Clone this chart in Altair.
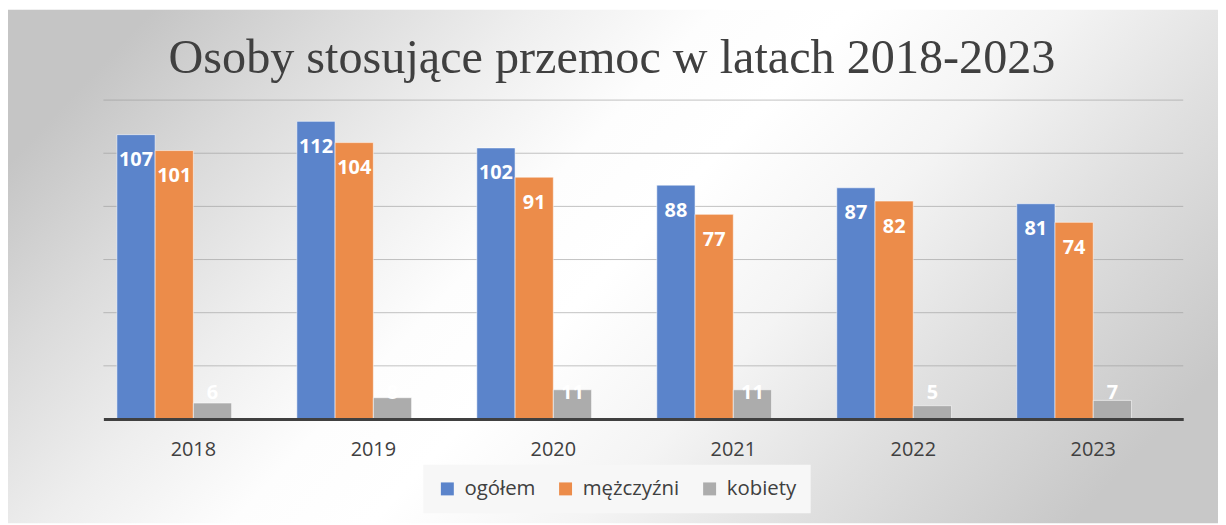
import altair as alt
import pandas as pd

title_text = "Osoby stosujące przemoc w latach 2018-2023"
years = ["2018", "2019", "2020", "2021", "2022", "2023"]
series_names = ["ogółem", "mężczyźni", "kobiety"]
ogolem = [107, 112, 102, 88, 87, 81]
mezczyzni = [101, 104, 91, 77, 82, 74]
kobiety = [6, 8, 11, 11, 5, 7]
grid_values = [20, 40, 60, 80, 100, 120]
colors = ["#5b84cb", "#ec8c4a", "#acacac"]

rows = []
for name, vals in zip(series_names, [ogolem, mezczyzni, kobiety]):
    for y, v in zip(years, vals):
        rows.append({"year": y, "series": name, "value": v})
df = pd.DataFrame(rows)

W, H = 1087, 321
PLOT_LEFT, PLOT_TOP = 96, 91
CANVAS_W, CANVAS_H = 1218, 517

x_enc = alt.X("year:N", sort=years,
              scale=alt.Scale(paddingInner=0.15, paddingOuter=0.075),
              axis=alt.Axis(title=None, labelAngle=0, ticks=False, grid=False,
                            domainColor="#404040", domainWidth=3,
                            labelFont="Open Sans", labelFontSize=20,
                            labelColor="#404040", labelPadding=21, zindex=1))
xoff_enc = alt.XOffset("series:N", scale=alt.Scale(domain=series_names + [""]))
y_scale = alt.Scale(domain=[0, 120], nice=False)

bg = alt.Chart(pd.DataFrame({"a": [0]})).mark_rect(
    color=alt.LinearGradient(
        gradient="linear", x1=0, y1=0.3, x2=1, y2=0.7,
        stops=[
            alt.GradientStop(color="#c5c5c5", offset=0.0),
            alt.GradientStop(color="#dadada", offset=0.13),
            alt.GradientStop(color="#eeeeee", offset=0.27),
            alt.GradientStop(color="#fdfdfd", offset=0.40),
            alt.GradientStop(color="#ffffff", offset=0.50),
            alt.GradientStop(color="#f4f4f4", offset=0.65),
            alt.GradientStop(color="#e0e0e0", offset=0.80),
            alt.GradientStop(color="#c8c8c8", offset=1.0),
        ]),
).encode(
    x=alt.value(-PLOT_LEFT), x2=alt.value(CANVAS_W - PLOT_LEFT),
    y=alt.value(-PLOT_TOP), y2=alt.value(CANVAS_H - PLOT_TOP),
)

title = alt.Chart(pd.DataFrame({"t": [title_text]})).mark_text(
    font="Liberation Serif", fontSize=48.5, color="#404040",
    align="center", baseline="alphabetic"
).encode(text="t:N", x=alt.value(512), y=alt.value(-27))

grid = alt.Chart(pd.DataFrame({"v": grid_values})).mark_rule(
    color="#999999", opacity=0.6, strokeWidth=1
).encode(y=alt.Y("v:Q", scale=y_scale, axis=None))

bars = alt.Chart(df).mark_bar(
    stroke="white", strokeWidth=1, strokeOpacity=0.55
).encode(
    x=x_enc,
    xOffset=xoff_enc,
    y=alt.Y("value:Q", scale=y_scale, axis=None),
    color=alt.Color("series:N",
                    scale=alt.Scale(domain=series_names, range=colors),
                    legend=alt.Legend(title=None, orient="none", legendX=322, legendY=367,
                                      direction="horizontal", symbolType="square",
                                      symbolSize=170, symbolStrokeWidth=0,
                                      labelFont="Open Sans", labelFontSize=20.5,
                                      labelColor="#404040", fillColor="#f7f7f7",
                                      padding=14, columnPadding=20, labelOffset=7)),
)

labels = alt.Chart(df).transform_calculate(
    label_y="max(datum.value - 9.6, 9.6)"
).mark_text(
    color="white", font="Open Sans", fontWeight="bold", fontSize=20, baseline="middle"
).encode(
    x=x_enc,
    xOffset=xoff_enc,
    y=alt.Y("label_y:Q", scale=y_scale, axis=None),
    text=alt.Text("value:Q"),
)

chart = alt.layer(bg, title, grid, bars, labels).properties(
    width=W, height=H, padding=0,
).configure_view(stroke=None)

chart.save("out.html", embed_options={"renderer": "svg", "actions": False})
